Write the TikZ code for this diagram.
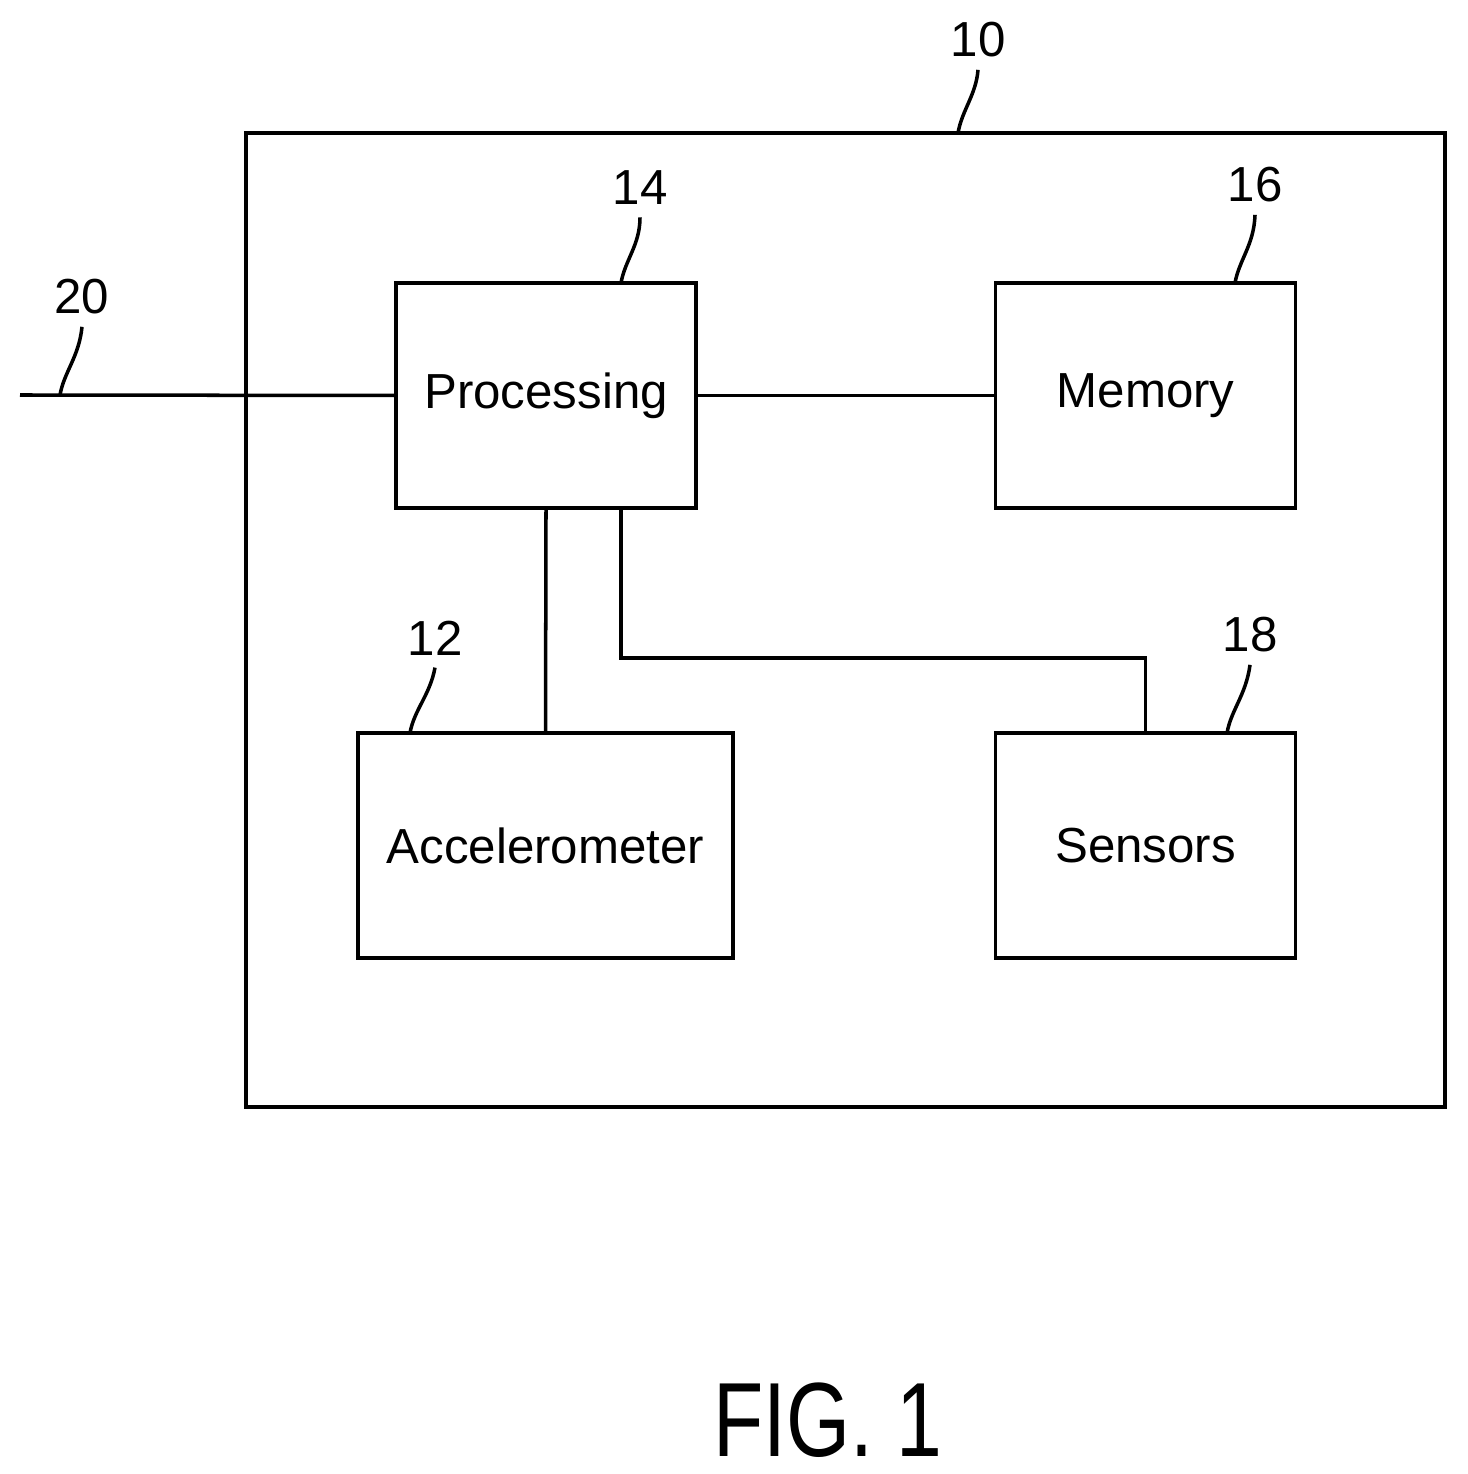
\documentclass[tikz,border=0pt]{standalone}
\usepackage{fontspec}
\setmainfont{Liberation Sans}
\usetikzlibrary{positioning}
\tikzset{
		block/.style={draw, line width=1pt, minimum width=3cm, minimum height=2.25cm, font=\fontsize{14}{16}\selectfont},
		num/.style={font=\fontsize{14}{16}\selectfont},
		lead/.style={line width=1pt}
	}
\begin{document}
\begin{tikzpicture}[x=0.01cm, y=-0.01cm]
		\useasboundingbox (0,0) rectangle (1467,1474);
		% Frame
		\draw[line width=1pt] (246,133) rectangle (1445,1107);
		% Blocks
		\node[block] (proc) at (546,395.5) {Processing};
		\node[block] (mem) at (1145.5,395.5) {Memory};
		\node[block, minimum width=3.75cm] (acc) at (545.5,845.5) {Accelerometer};
		\node[block] (sens) at (1145.5,845.5) {Sensors};
		% Connectors
		\coordinate (in) at (20,395);
		\coordinate (bend) at (621,658);
		\draw[lead] (in) -- (proc.west);
		\draw[lead] (proc.east) -- (mem.west);
		\draw[lead] (proc.south) -- (acc.north);
		\draw[lead] (proc.south -| bend) -- (bend) -| (sens.north);
		% Reference numerals
		\node[num] (n10) at (978,40) {10};
		\node[num] (n14) at (640,188) {14};
		\node[num] (n16) at (1255,185) {16};
		\node[num] (n12) at (435,638) {12};
		\node[num] (n18) at (1250,635) {18};
		\node[num] (n20) at (82,297) {20};
		\draw[lead] (958,133) .. controls (962,110) and (976,95) .. (n10.south);
		\draw[lead] (621,283) .. controls (625,260) and (640,245) .. (n14.south);
		\draw[lead] (1235,283) .. controls (1239,260) and (1254,245) .. (n16.south);
		\draw[lead] (410,733) .. controls (414,710) and (430,695) .. (n12.south);
		\draw[lead] (1227,733) .. controls (1231,710) and (1246,695) .. (n18.south);
		\draw[lead] (60,395) .. controls (64,372) and (79,357) .. (n20.south);
		% Caption
		\node[font=\fontsize{30}{34}\selectfont, xscale=0.78] (fig) at (828,1420) {FIG. 1};
	\end{tikzpicture}
\end{document}
